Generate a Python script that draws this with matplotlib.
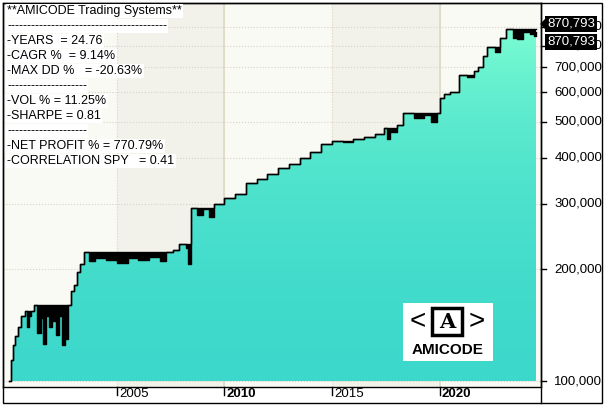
import numpy as np
import matplotlib
matplotlib.use('Agg')
from matplotlib import pyplot as plt
from matplotlib.patches import Rectangle, Polygon

plt.rcParams['font.family'] = ['Liberation Sans', 'DejaVu Sans']

# equity curve (decimal year, equity)
years = [2000.00, 2000.05, 2000.15, 2000.25, 2000.40, 2000.55, 2000.70, 2000.80, 2000.90, 2001.00,
         2001.15, 2001.30, 2001.45, 2001.55, 2001.70, 2001.85, 2002.00, 2002.15, 2002.30, 2002.45,
         2002.60, 2002.72, 2002.85, 2003.00, 2003.15, 2003.30, 2003.45, 2003.70, 2004.00, 2004.50,
         2005.00, 2005.50, 2006.00, 2006.50, 2007.00, 2007.30, 2007.60, 2007.90, 2008.20, 2008.30,
         2008.45, 2008.70, 2009.00, 2009.30, 2009.50, 2010.00, 2010.50, 2011.00, 2011.50, 2012.00,
         2012.50, 2013.00, 2013.50, 2014.00, 2014.50, 2015.00, 2015.50, 2016.00, 2016.50, 2017.00,
         2017.40, 2017.55, 2017.70, 2018.00, 2018.30, 2018.80, 2019.30, 2019.60, 2019.90, 2020.00,
         2020.20, 2020.50, 2020.90, 2021.30, 2021.60, 2021.80, 2022.00, 2022.20, 2022.60, 2022.80,
         2023.10, 2023.40, 2023.60, 2023.90, 2024.20, 2024.40, 2024.50]
equity = [100000, 114000, 125000, 132000, 140000, 150000, 154000, 140000, 150000, 154000,
          160000, 135000, 148000, 126000, 150000, 140000, 145000, 133000, 150000, 125000,
          130000, 160000, 175000, 182000, 197000, 207000, 223000, 210000, 215000, 212000,
          208000, 214000, 212000, 216000, 210000, 222000, 226000, 234000, 228000, 207000,
          293000, 280000, 290000, 276000, 300000, 311000, 320000, 341000, 350000, 362000,
          375000, 385000, 400000, 415000, 436000, 442000, 440000, 450000, 455000, 464000,
          481000, 450000, 470000, 490000, 526000, 510000, 520000, 500000, 526000, 580000,
          594000, 600000, 668000, 660000, 685000, 703000, 751000, 792000, 770000, 837000,
          889000, 840000, 832000, 870000, 860000, 850000, 870793]
y_ticks = [100000, 200000, 300000, 400000, 500000, 600000, 700000, 800000, 900000]
x_ticks = [2005, 2010, 2015, 2020]
stats_lines = ['**AMICODE Trading Systems**', '-' * 40, '-YEARS  = 24.76', '-CAGR %  = 9.14%',
               '-MAX DD %   = -20.63%', '-' * 20, '-VOL % = 11.25%', '-SHARPE = 0.81', '-' * 20,
               '-NET PROFIT % = 770.79%', '-CORRELATION SPY   = 0.41']
last_value = 870793

x = np.array(years)
eq = np.array(equity, dtype=float)
peak = np.maximum.accumulate(eq)

W, H = 607, 408
fig = plt.figure(figsize=(W / 100, H / 100), dpi=100)
fig.patch.set_facecolor('white')
ax = fig.add_axes([3 / W, (H - 387) / H, 538 / W, 384 / H])
ymin, ymax = 96400, 1043000
xmin, xmax = 1999.7, 2024.72
ax.set_xlim(xmin, xmax)
ax.set_ylim(ymin, ymax)
ax.set_yscale('log')
ax.set_facecolor('#fafaf5')

# alternating year bands
for a, b in [(2005, 2010), (2015, 2020)]:
    ax.axvspan(a, b, color='#f3f2ea', zorder=0)
for t in x_ticks:
    if t % 10 == 0:
        ax.axvline(t, color='#ddd9c3', lw=1.2, zorder=1)
    else:
        ax.axvline(t, color='#ddd9c3', lw=0.8, ls=':', zorder=1)
for v in y_ticks:
    ax.axhline(v, color='#d5d3c8', lw=0.8, ls=':', zorder=1)

# gradient fill under equity
verts = [(x[0], 1e5)] + [p for i in range(len(x)) for p in
                         ([(x[i], eq[i - 1]), (x[i], eq[i])] if i > 0 else [(x[i], eq[i])])] + [(x[-1], 1e5)]
clip = Polygon(verts, transform=ax.transData, facecolor='none', edgecolor='none')
ax.add_patch(clip)
grad = np.linspace(0, 1, 256).reshape(-1, 1)
im = ax.imshow(grad, extent=[xmin, xmax, 1e5, 9e5], aspect='auto', origin='lower',
               cmap=matplotlib.colors.LinearSegmentedColormap.from_list('g', ['#3cd8cb', '#7cfdd2']),
               zorder=2)
im.set_clip_path(clip)
ax.set_yscale('log')
ax.set_xlim(xmin, xmax)
ax.set_ylim(ymin, ymax)

# drawdown in black
ax.fill_between(x, eq, peak, step='post', color='black', lw=0, zorder=3)
ax.step(x, eq, where='post', color='black', lw=1, zorder=4)
ax.step(x, peak, where='post', color='black', lw=1, zorder=4)

ax.set_yticks([])
ax.set_xticks([])
ax.minorticks_off()
for s in ax.spines.values():
    s.set_linewidth(1)

# right axis labels
for v in y_ticks:
    yy = (np.log10(v) - np.log10(ymin)) / (np.log10(ymax) - np.log10(ymin))
    ax.plot([1, 1.01], [yy, yy], transform=ax.transAxes, color='black', lw=1, clip_on=False)
    ax.text(1.025, yy, f'{v:,}', transform=ax.transAxes, va='center', ha='left', fontsize=9.5)
for yy in [(H - 24) / H, (H - 42) / H]:
    fig.text(547 / W, yy, f'{last_value:,}', color='white', fontsize=9.5, va='center', ha='left',
             bbox=dict(facecolor='black', edgecolor='none', pad=1.2))
fig.patches.append(Polygon([(541 / W, (H - 24) / H), (547 / W, (H - 18) / H), (547 / W, (H - 30) / H)],
                           closed=True, transform=fig.transFigure, color='black'))

# year labels
for t in x_ticks:
    fx = (3 + (t - xmin) / (xmax - xmin) * 538) / W
    fig.lines.append(plt.Line2D([fx, fx], [(H - 387) / H, (H - 395) / H], transform=fig.transFigure,
                                color='black', lw=1))
    fig.text(fx + 2 / W, (H - 394) / H, str(t), fontsize=9.5, va='center', ha='left',
             fontweight='bold' if t % 10 == 0 else 'normal')

# outer frame
fig.patches.append(Rectangle((3 / W, 5 / H), 599 / W, 400 / H, transform=fig.transFigure,
                             fill=False, edgecolor='black', lw=1))
fig.lines.append(plt.Line2D([541 / W, 541 / W], [5 / H, 405 / H], transform=fig.transFigure,
                            color='black', lw=1))

# stats text
for i, line in enumerate(stats_lines):
    fig.text(7 / W, (H - 11 - i * 15) / H, line, fontsize=9, va='center', ha='left',
             bbox=dict(facecolor='white', edgecolor='none', pad=1))

# logo
fig.patches.append(Rectangle((403 / W, (H - 361) / H), 90 / W, 58 / H, transform=fig.transFigure,
                             facecolor='white', edgecolor='none', zorder=5))
fig.patches.append(Rectangle((432 / W, (H - 335) / H), 30 / W, 27 / H, transform=fig.transFigure,
                             fill=False, edgecolor='black', lw=2.5, zorder=6))
fig.text(447 / W, (H - 322) / H, 'A', fontsize=15, family='DejaVu Serif', fontweight='bold',
         ha='center', va='center', zorder=7)
fig.text(418 / W, (H - 322) / H, '<', fontsize=20, ha='center', va='center', zorder=7)
fig.text(477 / W, (H - 322) / H, '>', fontsize=20, ha='center', va='center', zorder=7)
fig.text(448 / W, (H - 350) / H, 'AMICODE', fontsize=11, fontweight='bold', ha='center', va='center',
         zorder=7)

fig.savefig('out.png', dpi=100)
